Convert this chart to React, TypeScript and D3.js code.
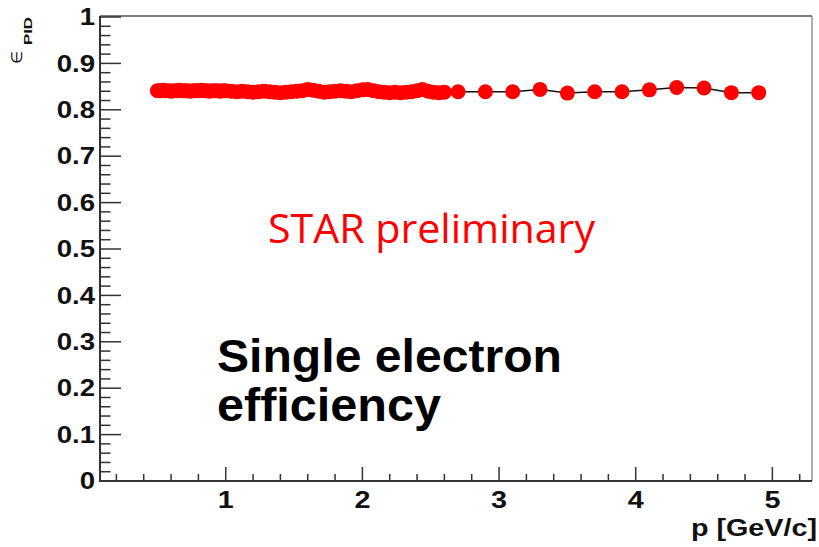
import React from "react";
import * as d3 from "d3";

const pLow = [0.50,0.52,0.54,0.56,0.58,0.60,0.62,0.64,0.66,0.68,0.70,0.72,0.74,0.76,0.78,0.80,0.82,0.84,0.86,0.88,0.90,0.92,0.94,0.96,0.98,1.00];
const effLow = [0.841,0.841,0.842,0.841,0.841,0.840,0.841,0.841,0.842,0.841,0.841,0.841,0.840,0.841,0.841,0.841,0.842,0.841,0.841,0.840,0.841,0.841,0.841,0.840,0.841,0.841];
const pMid = [1.04,1.08,1.12,1.16,1.20,1.24,1.28,1.32,1.36,1.40,1.44,1.48,1.52,1.56,1.60,1.64,1.68,1.72,1.76,1.80,1.84,1.88,1.92,1.96,2.00,2.04,2.08,2.12,2.16,2.20,2.24,2.28,2.32,2.36,2.40,2.44,2.48,2.52,2.56,2.60];
const effMid = [0.840,0.839,0.840,0.839,0.838,0.839,0.840,0.839,0.838,0.837,0.838,0.839,0.840,0.841,0.844,0.842,0.840,0.838,0.839,0.840,0.841,0.840,0.839,0.841,0.843,0.844,0.841,0.839,0.838,0.837,0.838,0.837,0.838,0.839,0.841,0.844,0.840,0.838,0.837,0.838];
const pHigh = [2.7,2.9,3.1,3.3,3.5,3.7,3.9,4.1,4.3,4.5,4.7,4.9];
const effHigh = [0.839,0.839,0.839,0.844,0.836,0.839,0.839,0.843,0.848,0.847,0.837,0.837];

const yTickLabels = ["0","0.1","0.2","0.3","0.4","0.5","0.6","0.7","0.8","0.9","1"];
const xTickLabels = ["1","2","3","4","5"];

const W = 819, H = 547;
const X0 = 100, X1 = 812, Y0 = 481, Y1 = 17;

export default function App() {
  const x = d3.scaleLinear().domain([0.08, 5.29]).range([X0, X1]);
  const y = d3.scaleLinear().domain([0, 1]).range([Y0, Y1]);
  const pts: [number, number][] = [
    ...pLow.map((p, i) => [p, effLow[i]] as [number, number]),
    ...pMid.map((p, i) => [p, effMid[i]] as [number, number]),
    ...pHigh.map((p, i) => [p, effHigh[i]] as [number, number]),
  ];
  const line = d3.line<[number, number]>().x(d => x(d[0])).y(d => y(d[1]));
  const yMinor = d3.range(0, 1.0001, 0.02);
  const xMinor = d3.range(0.2, 5.29, 0.2);
  const font = "'Liberation Sans', Arial, sans-serif";
  return (
    <div style={{ position: "fixed", left: 0, top: 0 }}>
      <svg width={W} height={H} style={{ display: "block", background: "#fff" }}>
        <rect x={0} y={0} width={W} height={H} fill="#fff" />
        {/* frame top/right */}
        <line x1={X0} x2={X1} y1={Y1 - 1} y2={Y1 - 1} stroke="#555" strokeWidth={1.5} />
        <line x1={X1} x2={X1} y1={Y1 - 1} y2={Y0} stroke="#777" strokeWidth={1.2} />
        {/* y ticks */}
        {yMinor.map((v, i) => {
          const major = i % 5 === 0;
          return <line key={"ym" + i} x1={X0} x2={X0 + (major ? 21 : 10.5)} y1={y(v)} y2={y(v)} stroke="#333" strokeWidth={1.5} />;
        })}
        {/* x ticks */}
        {xMinor.map((v, i) => {
          const major = Math.abs(v - Math.round(v)) < 1e-6;
          return <line key={"xm" + i} x1={x(v)} x2={x(v)} y1={Y0} y2={Y0 - (major ? 14 : 7)} stroke="#333" strokeWidth={1.5} />;
        })}
        {/* axes */}
        <line x1={X0} x2={X0} y1={Y1 - 1} y2={Y0 + 1} stroke="#333" strokeWidth={2} />
        <line x1={X0 - 1} x2={X1} y1={Y0} y2={Y0} stroke="#333" strokeWidth={2} />
        {/* y labels */}
        {yTickLabels.map((t, i) => (
          <g key={"yl" + i} transform={`translate(95,${y(+t)}) scale(1.2,1)`}>
            <text x={0} y={0} dy="0.36em" textAnchor="end" fontFamily={font} fontWeight="bold" fontSize={23} fill="#111">{t}</text>
          </g>
        ))}
        {xTickLabels.map((t, i) => (
          <g key={"xl" + i} transform={`translate(${x(+t)},508) scale(1.25,1)`}>
            <text x={0} y={0} textAnchor="middle" fontFamily={font} fontWeight="bold" fontSize={23} fill="#111">{t}</text>
          </g>
        ))}
        <g transform="translate(817,536) scale(1.25,1)">
          <text x={0} y={0} textAnchor="end" fontFamily={font} fontWeight="bold" fontSize={23} fill="#111">p [GeV/c]</text>
        </g>
        {/* y title */}
        <g transform="translate(22,64) rotate(-90)">
          <text x={0} y={0} fontFamily="'DejaVu Sans', sans-serif" fontSize={15} fill="#111" textLength={13} lengthAdjust="spacingAndGlyphs">∈</text>
          <text x={19} y={10} fontFamily={font} fontWeight="bold" fontSize={11} fill="#111" textLength={28} lengthAdjust="spacingAndGlyphs">PID</text>
        </g>
        {/* data */}
        <path d={line(pts) || ""} fill="none" stroke="#111" strokeWidth={1.5} />
        {pts.map((d, i) => (
          <circle key={"c" + i} cx={x(d[0])} cy={y(d[1])} r={7.5} fill="#ff0000" />
        ))}
        <text x={268} y={243} fontFamily="'Open Sans', 'Noto Sans', sans-serif" fontSize={40} fill="#ff0000" textLength={327} lengthAdjust="spacingAndGlyphs">STAR preliminary</text>
        <text x={217} y={372} fontFamily={font} fontWeight="bold" fontSize={46} fill="#000" textLength={345} lengthAdjust="spacingAndGlyphs">Single electron</text>
        <text x={217} y={421} fontFamily={font} fontWeight="bold" fontSize={46} fill="#000" textLength={224} lengthAdjust="spacingAndGlyphs">efficiency</text>
      </svg>
    </div>
  );
}
